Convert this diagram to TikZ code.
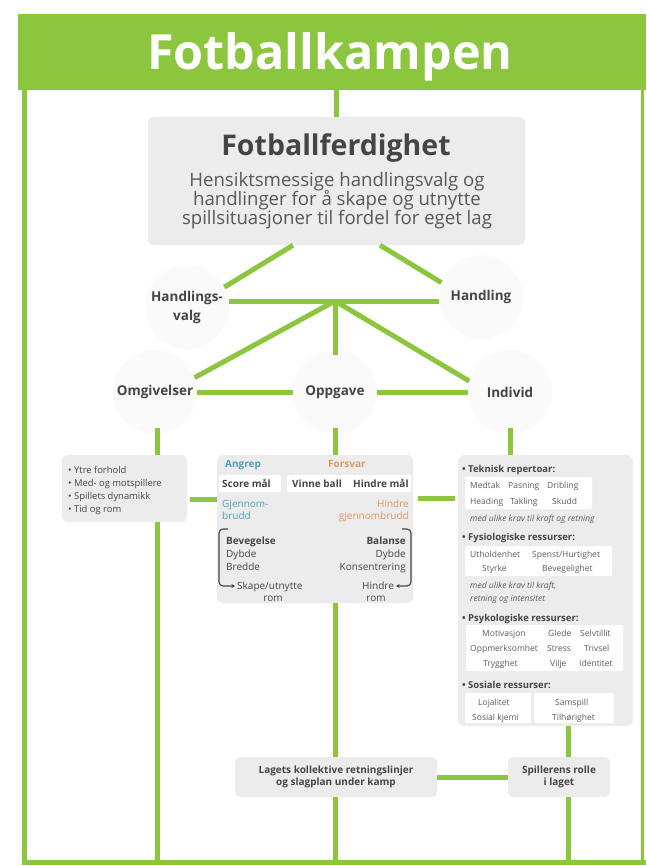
\documentclass[tikz,border=0pt]{standalone}
\usepackage{fontspec}
\setmainfont{Open Sans}
\usetikzlibrary{arrows.meta,calc}
\definecolor{fgreen}{HTML}{8CC63F}
\definecolor{boxgray}{HTML}{EBECEB}
\definecolor{txtc}{HTML}{454545}
\definecolor{subtxt}{HTML}{585858}
\definecolor{itemc}{HTML}{5C5C5C}
\definecolor{angrepc}{HTML}{4FA0BA}
\definecolor{forsvarc}{HTML}{DC9A64}
\tikzset{
  gline/.style={draw=fgreen, line width=5pt},
  panel/.style={fill=boxgray, rounded corners=6pt, inner sep=0pt},
  roundlbl/.style={circle, fill=black!1.8, minimum size=84pt, inner sep=0pt,
    font=\fontsize{13.5}{19}\selectfont\bfseries, text=txtc, align=center},
  tx/.style={inner sep=0pt, text=txtc},
  cb/.style={tx, font=\fontsize{10}{12}\selectfont\bfseries},
  cr/.style={tx, font=\fontsize{10}{12}\selectfont},
  lr/.style={tx, anchor=base west, font=\fontsize{9.4}{12}\selectfont},
  rh/.style={tx, anchor=base west, font=\fontsize{9.5}{11}\selectfont\bfseries},
  ri/.style={inner sep=0pt, text=itemc, anchor=base west, font=\fontsize{8.5}{10}\selectfont},
  rit/.style={inner sep=0pt, text=itemc, anchor=base west, font=\fontsize{8.5}{10}\selectfont\itshape},
  whitecell/.style={fill=white, rounded corners=2pt},
  brk/.style={draw=txtc, line width=1.1pt, rounded corners=4pt},
}
\begin{document}
\begin{tikzpicture}[x=1pt,y=-1pt]
\useasboundingbox (0,0) rectangle (646,866);
% frame and title band
\node[fill=fgreen, minimum width=628pt, minimum height=76pt, inner sep=0pt, anchor=north west] (band) at (18,14) {};
\node[anchor=base, text=white, inner sep=0pt, font=\fontsize{48.5}{48}\selectfont\bfseries] (title) at (330,70) {Fotballkampen};
\coordinate (fb) at (0,862);
\draw[fgreen, line width=5pt] (24,88) -- (24,862) -- (646,862);
\draw[fgreen, line width=3pt] (642,88) -- (642,862);

% top box
\node[panel, minimum width=377pt, minimum height=128pt] (top) at (336.5,181) {};
\node[tx, anchor=base, font=\fontsize{28.5}{28}\selectfont\bfseries] (tf) at (336,156) {Fotballferdighet};
\node[inner sep=0pt, text=subtxt, anchor=base, font=\fontsize{18.6}{19}\selectfont] (ts1) at (337,187) {Hensiktsmessige handlingsvalg og};
\node[inner sep=0pt, text=subtxt, anchor=base, font=\fontsize{18.6}{19}\selectfont] (ts2) at (337,206) {handlinger for å skape og utnytte};
\node[inner sep=0pt, text=subtxt, anchor=base, font=\fontsize{18.6}{19}\selectfont] (ts3) at (337,225) {spillsituasjoner til fordel for eget lag};

% round labels
\node[roundlbl] (hv) at (187,307) {Handlings-\\valg};
\node[roundlbl] (hd) at (481,297) {Handling};
\node[roundlbl] (om) at (155,392) {Omgivelser};
\node[roundlbl] (op) at (335,392) {Oppgave};
\node[roundlbl] (in) at (510,392) {Individ};
\coordinate (hub) at (335,301);

% boxes
\node[panel, minimum width=125pt, minimum height=67pt] (lbox) at (124.5,488.5) {};
\node[panel, minimum width=196pt, minimum height=148pt] (cbox) at (315,529) {};
\node[panel, minimum width=175pt, minimum height=271pt] (rbox) at (545.5,590.5) {};
\node[panel, minimum width=202pt, minimum height=40pt, text=txtc, align=center,
  font=\fontsize{10}{12}\selectfont\bfseries] (lag) at (336,777) {Lagets kollektive retningslinjer\\og slagplan under kamp};
\node[panel, minimum width=102pt, minimum height=40pt, text=txtc, align=center,
  font=\fontsize{10}{12}\selectfont\bfseries] (spl) at (559,777) {Spillerens rolle\\i laget};

% connectors
\draw[gline] (top.north |- band.south) -- (top.north);
\draw[gline] ([xshift=-43.5pt]top.south) -- (hv.28);
\draw[gline] ([xshift=43.5pt]top.south) -- (hd.160);
\draw[gline] (hv.east |- hub) -- (hd.west |- hub);
\draw[gline] (hub) -- (om.20);
\draw[gline] (hub) -- ([yshift=-5pt]op.north);
\draw[gline] (hub) -- (in.165);
\draw[gline] (om.east) -- (op.west);
\draw[gline] (op.east) -- (in.west);
\coordinate (ov) at ([xshift=2pt]om.south);
\draw[gline] ([yshift=6pt]ov) -- (ov |- lbox.north);
\draw[gline] (ov |- lbox.south) -- (ov |- fb);
\draw[gline] ([yshift=6pt]op.south) -- (op.south |- cbox.north);
\draw[gline] (op.south |- cbox.south) -- (op.south |- lag.north);
\draw[gline] (op.south |- lag.south) -- (op.south |- fb);
\draw[gline] ([yshift=6pt]in.south) -- (in.south |- rbox.north);
\draw[gline] ([xshift=3pt,yshift=-10.5pt]lbox.east) -- ([yshift=-10.5pt]lbox.east -| cbox.west);
\draw[gline] ([xshift=5pt,yshift=31pt]cbox.east) -- ([xshift=-3pt,yshift=31pt]cbox.east -| rbox.west);
\coordinate (rs) at ([xshift=22.5pt]rbox.south);
\draw[gline] (rs) -- (rs |- spl.north);
\draw[gline] (rs |- spl.south) -- (rs |- fb);
\draw[gline] (lag.east) -- (spl.west);

% left box text
\node[lr] (l1) at (68,473) {• Ytre forhold};
\node[lr] (l2) at (68,486) {• Med- og motspillere};
\node[lr] (l3) at (68,499) {• Spillets dynamikk};
\node[lr] (l4) at (68,512) {• Tid og rom};

% center box
\fill[whitecell] (219,475) rectangle (281,492);
\fill[whitecell] (287,475) rectangle (411,492);
\node[cb, anchor=base west, text=angrepc] (ang) at (225,467) {Angrep};
\node[cb, anchor=base west, text=forsvarc] (fors) at (328,467) {Forsvar};
\node[cb, anchor=base west] (sm) at (222,487) {Score mål};
\node[cb, anchor=base west] (vb) at (292,487) {Vinne ball};
\node[cb, anchor=base west] (hm) at (353,487) {Hindre mål};
\node[cr, anchor=base west, text=angrepc] (gj1) at (222,507) {Gjennom-};
\node[cr, anchor=base west, text=angrepc] (gj2) at (222,519) {brudd};
\node[cr, anchor=base east, text=forsvarc] (hg1) at (409,507) {Hindre};
\node[cr, anchor=base east, text=forsvarc] (hg2) at (409,519) {gjennombrudd};
\node[cb, anchor=base west] (bev) at (226,544) {Bevegelse};
\node[cr, anchor=base west] (dy1) at (226,557) {Dybde};
\node[cr, anchor=base west] (bre) at (226,570) {Bredde};
\node[cb, anchor=base east] (bal) at (406,544) {Balanse};
\node[cr, anchor=base east] (dy2) at (406,557) {Dybde};
\node[cr, anchor=base east] (kon) at (406,570) {Konsentrering};
\node[cr, anchor=base west] (sk) at (237,589) {Skape/utnytte};
\node[cr, anchor=base] (skr) at (273,601) {rom};
\node[cr, anchor=base west] (hi) at (362,589) {Hindre};
\node[cr, anchor=base] (hir) at (376,601) {rom};
\draw[brk, -{Stealth[length=3.5pt,width=4pt]}, shorten >=2pt] (228,529) -- (219,529) -- (219,586) -- (sk.west |- 0,586);
\draw[brk, -{Stealth[length=3.5pt,width=4pt]}, shorten >=2pt] (402,529) -- (411,529) -- (411,586) -- (hi.east |- 0,586);

% right box
\fill[whitecell] (465,477) rectangle (592,509);
\fill[whitecell] (465,546) rectangle (612,576);
\fill[whitecell] (466,625) rectangle (623,671);
\fill[whitecell] (465,693) rectangle (531,723);
\fill[whitecell] (534,693) rectangle (614,723);
\node[rh] (r1) at (462,472) {• Teknisk repertoar:};
\node[ri] (a1) at (470,488) {Medtak};
\node[ri] (a2) at (508,488) {Pasning};
\node[ri] (a3) at (547,488) {Dribling};
\node[ri] (a4) at (470,504) {Heading};
\node[ri] (a5) at (510,504) {Takling};
\node[ri] (a6) at (552,504) {Skudd};
\node[rit] (a7) at (470,521) {med ulike krav til kraft og retning};
\node[rh] (r2) at (462,540) {• Fysiologiske ressurser:};
\node[ri] (b1) at (470,557) {Utholdenhet};
\node[ri] (b2) at (532,557) {Spenst/Hurtighet};
\node[ri] (b3) at (482,571) {Styrke};
\node[ri] (b4) at (542,571) {Bevegelighet};
\node[rit] (b5) at (470,588) {med ulike krav til kraft,};
\node[rit] (b6) at (470,601) {retning og intensitet};
\node[rh] (r3) at (462,621) {• Psykologiske ressurser:};
\node[ri] (c1) at (482,636) {Motivasjon};
\node[ri] (c2) at (548,636) {Glede};
\node[ri] (c3) at (580,636) {Selvtillit};
\node[ri] (c4) at (470,651) {Oppmerksomhet};
\node[ri] (c5) at (547,651) {Stress};
\node[ri] (c6) at (584,651) {Trivsel};
\node[ri] (c7) at (483,666) {Trygghet};
\node[ri] (c8) at (550,666) {Vilje};
\node[ri] (c9) at (579,666) {Identitet};
\node[rh] (r4) at (462,688) {• Sosiale ressurser:};
\node[ri] (d1) at (478,705) {Lojalitet};
\node[ri] (d2) at (555,705) {Samspill};
\node[ri] (d3) at (472,720) {Sosial kjemi};
\node[ri] (d4) at (552,720) {Tilhørighet};
\end{tikzpicture}
\end{document}
